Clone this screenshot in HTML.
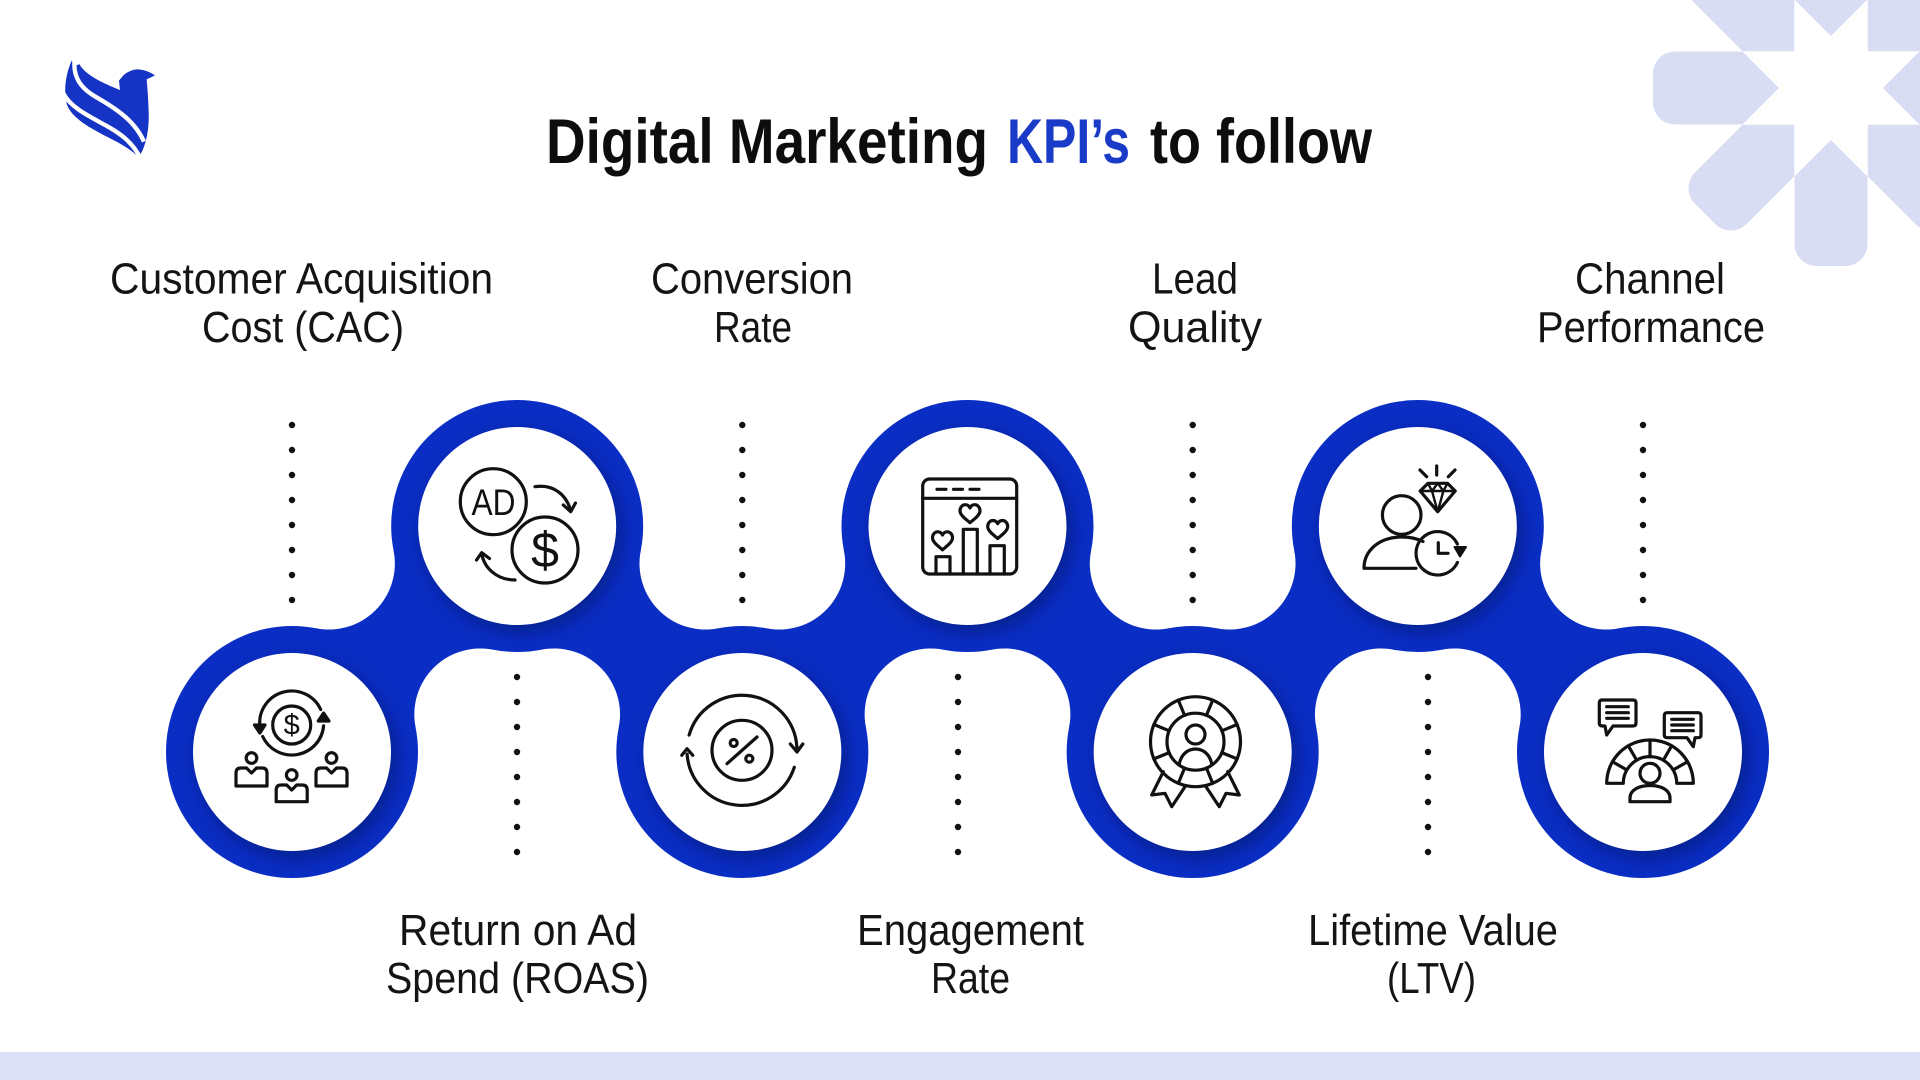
<!DOCTYPE html>
<html>
<head>
<meta charset="utf-8">
<style>
html,body{margin:0;padding:0;background:#ffffff;}
svg{display:block;}
text{font-family:"Liberation Sans",Arial,sans-serif;}
</style>
</head>
<body>
<svg xmlns="http://www.w3.org/2000/svg" xmlns:xlink="http://www.w3.org/1999/xlink" width="1920" height="1080" viewBox="0 0 1920 1080">
<defs>
  <path id="neck" d="M123.59,-24.64 A66,66 0 0 1 200.99,-102.32 L101.58,-201.36 A66,66 0 0 1 24.18,-123.68 Z"/>
  <path id="petal" d="M52,0 L88.5,-36.5 L156,-36.5 A22,22 0 0 1 178,-14.5 L178,14.5 A22,22 0 0 1 156,36.5 L88.5,36.5 Z"/>
  <path id="heart" d="M0,8 C-4,4.5 -10,0.5 -10,-4 C-10,-7.5 -7.5,-10 -4.8,-10 C-2.5,-10 -0.8,-8.5 0,-6.8 C0.8,-8.5 2.5,-10 4.8,-10 C7.5,-10 10,-7.5 10,-4 C10,0.5 4,4.5 0,8 Z"/>
  <clipPath id="cc">
    <circle cx="292" cy="752" r="126"/>
    <circle cx="517.17" cy="526" r="126"/>
    <circle cx="742.33" cy="752" r="126"/>
    <circle cx="967.5" cy="526" r="126"/>
    <circle cx="1192.67" cy="752" r="126"/>
    <circle cx="1417.83" cy="526" r="126"/>
    <circle cx="1643" cy="752" r="126"/>
    <use href="#neck" xlink:href="#neck" transform="translate(292,752)"/>
    <use href="#neck" xlink:href="#neck" transform="translate(517.17,526) scale(1,-1)"/>
    <use href="#neck" xlink:href="#neck" transform="translate(742.33,752)"/>
    <use href="#neck" xlink:href="#neck" transform="translate(967.5,526) scale(1,-1)"/>
    <use href="#neck" xlink:href="#neck" transform="translate(1192.67,752)"/>
    <use href="#neck" xlink:href="#neck" transform="translate(1417.83,526) scale(1,-1)"/>
  </clipPath>
  <filter id="sh" x="-20%" y="-20%" width="140%" height="140%">
    <feGaussianBlur stdDeviation="9"/>
  </filter>
</defs>

<!-- decorative star top-right -->
<g transform="translate(1831,88)" fill="#d8ddf4">
  <use href="#petal" xlink:href="#petal" transform="rotate(0)"/>
  <use href="#petal" xlink:href="#petal" transform="rotate(45)"/>
  <use href="#petal" xlink:href="#petal" transform="rotate(90)"/>
  <use href="#petal" xlink:href="#petal" transform="rotate(135)"/>
  <use href="#petal" xlink:href="#petal" transform="rotate(180)"/>
  <use href="#petal" xlink:href="#petal" transform="rotate(225)"/>
  <use href="#petal" xlink:href="#petal" transform="rotate(270)"/>
  <use href="#petal" xlink:href="#petal" transform="rotate(315)"/>
</g>

<!-- bottom band -->
<rect x="0" y="1052" width="1920" height="28" fill="#dde1f7"/>

<!-- logo -->
<g transform="translate(40,40) scale(0.3333)">
  <path fill="#1533c4" d="M95,62 C78,100 70,150 80,190 C92,235 160,270 220,300 C255,318 280,335 296,352 C318,320 328,270 326,215 C325,175 322,140 320,118 L345,106 C330,96 312,88 290,88 C270,90 255,100 245,112 L237,122 L240,150 C190,130 135,105 118,72 C110,80 100,70 95,62 Z"/>
  <path fill="none" stroke="#ffffff" stroke-width="13" d="M104,58 C98,110 120,145 175,175 C235,210 285,245 312,305"/>
  <path fill="none" stroke="#ffffff" stroke-width="13" d="M70,160 C90,200 140,225 195,255 C245,282 280,310 302,356"/>
</g>

<!-- title -->
<text x="546" y="163" font-size="63" font-weight="700" fill="#0d0d0d" textLength="442" lengthAdjust="spacingAndGlyphs">Digital Marketing</text>
<text x="1007" y="163" font-size="63" font-weight="700" fill="#1a3ac8" textLength="123" lengthAdjust="spacingAndGlyphs">KPI’s</text>
<text x="1150" y="163" font-size="63" font-weight="700" fill="#0d0d0d" textLength="222" lengthAdjust="spacingAndGlyphs">to follow</text>

<!-- labels -->
<g font-size="44" fill="#141414">
  <text x="110" y="293.5" textLength="383" lengthAdjust="spacingAndGlyphs">Customer Acquisition</text>
  <text x="202" y="342" textLength="202" lengthAdjust="spacingAndGlyphs">Cost (CAC)</text>
  <text x="651" y="293.5" textLength="202" lengthAdjust="spacingAndGlyphs">Conversion</text>
  <text x="714" y="342" textLength="78" lengthAdjust="spacingAndGlyphs">Rate</text>
  <text x="1152" y="293.5" textLength="86" lengthAdjust="spacingAndGlyphs">Lead</text>
  <text x="1128" y="342" textLength="134" lengthAdjust="spacingAndGlyphs">Quality</text>
  <text x="1575" y="293.5" textLength="150" lengthAdjust="spacingAndGlyphs">Channel</text>
  <text x="1537" y="342" textLength="228" lengthAdjust="spacingAndGlyphs">Performance</text>

  <text x="399" y="945" textLength="238" lengthAdjust="spacingAndGlyphs">Return on Ad</text>
  <text x="386" y="993" textLength="263" lengthAdjust="spacingAndGlyphs">Spend (ROAS)</text>
  <text x="857" y="945" textLength="227" lengthAdjust="spacingAndGlyphs">Engagement</text>
  <text x="931" y="993" textLength="79" lengthAdjust="spacingAndGlyphs">Rate</text>
  <text x="1308" y="945" textLength="250" lengthAdjust="spacingAndGlyphs">Lifetime Value</text>
  <text x="1387" y="993" textLength="89" lengthAdjust="spacingAndGlyphs">(LTV)</text>
</g>

<!-- dotted lines -->
<g stroke="#111" stroke-width="6.4" stroke-linecap="round" stroke-dasharray="0 25" fill="none">
  <line x1="292" y1="425" x2="292" y2="601"/>
  <line x1="742.3" y1="425" x2="742.3" y2="601"/>
  <line x1="1192.7" y1="425" x2="1192.7" y2="601"/>
  <line x1="1643" y1="425" x2="1643" y2="601"/>
  <line x1="517" y1="677" x2="517" y2="853"/>
  <line x1="958" y1="677" x2="958" y2="853"/>
  <line x1="1428" y1="677" x2="1428" y2="853"/>
</g>

<!-- blue chain -->
<g fill="#0a2ec4">
  <circle cx="292" cy="752" r="126"/>
  <circle cx="517.17" cy="526" r="126"/>
  <circle cx="742.33" cy="752" r="126"/>
  <circle cx="967.5" cy="526" r="126"/>
  <circle cx="1192.67" cy="752" r="126"/>
  <circle cx="1417.83" cy="526" r="126"/>
  <circle cx="1643" cy="752" r="126"/>
  <use href="#neck" xlink:href="#neck" transform="translate(292,752)"/>
  <use href="#neck" xlink:href="#neck" transform="translate(517.17,526) scale(1,-1)"/>
  <use href="#neck" xlink:href="#neck" transform="translate(742.33,752)"/>
  <use href="#neck" xlink:href="#neck" transform="translate(967.5,526) scale(1,-1)"/>
  <use href="#neck" xlink:href="#neck" transform="translate(1192.67,752)"/>
  <use href="#neck" xlink:href="#neck" transform="translate(1417.83,526) scale(1,-1)"/>
</g>

<!-- shadows cast by white circles onto ring -->
<g clip-path="url(#cc)">
  <g filter="url(#sh)" fill="#000c4a" opacity="0.45">
    <circle cx="297" cy="759" r="99"/>
    <circle cx="522.17" cy="533" r="99"/>
    <circle cx="747.33" cy="759" r="99"/>
    <circle cx="972.5" cy="533" r="99"/>
    <circle cx="1197.67" cy="759" r="99"/>
    <circle cx="1422.83" cy="533" r="99"/>
    <circle cx="1648" cy="759" r="99"/>
  </g>
</g>

<!-- white inner circles -->
<g fill="#ffffff">
  <circle cx="292" cy="752" r="99"/>
  <circle cx="517.17" cy="526" r="99"/>
  <circle cx="742.33" cy="752" r="99"/>
  <circle cx="967.5" cy="526" r="99"/>
  <circle cx="1192.67" cy="752" r="99"/>
  <circle cx="1417.83" cy="526" r="99"/>
  <circle cx="1643" cy="752" r="99"/>
</g>

<!-- ICONS -->
<g stroke="#111" stroke-width="3.2" fill="none" stroke-linecap="round" stroke-linejoin="round">

  <!-- Icon 1: CAC -->
  <circle cx="291.7" cy="725" r="19"/>
  <path d="M320.7,709.5 A32,32 0 0 0 259.8,725.8"/>
  <path d="M262.7,736.5 A32,32 0 0 0 323.6,725.8"/>
  <path d="M259.8,733 L254.5,725 L265,725 Z" fill="#111"/>
  <path d="M323.6,713 L318.3,721 L329,721 Z" fill="#111"/>
  <circle cx="251.5" cy="758" r="5.3"/>
  <path d="M236,786 L236,773 Q236,768 241,768 L246.5,768 L251.5,773 L256.5,768 L262,768 Q267,768 267,773 L267,786 Z"/>
  <circle cx="291.7" cy="775" r="5.3"/>
  <path d="M276.2,801.7 L276.2,790 Q276.2,785 281.2,785 L286.7,785 L291.7,790 L296.7,785 L302.2,785 Q307.2,785 307.2,790 L307.2,801.7 Z"/>
  <circle cx="331.5" cy="758" r="5.3"/>
  <path d="M316,786 L316,773 Q316,768 321,768 L326.5,768 L331.5,773 L336.5,768 L342,768 Q347,768 347,773 L347,786 Z"/>

  <!-- Icon 2: ROAS -->
  <circle cx="493.3" cy="501.7" r="33"/>
  <circle cx="545" cy="550" r="33"/>
  <path d="M535,486.7 C553,484 566,494 570.7,510.5"/>
  <path d="M563.3,505 L570.7,511.7 L575.5,503"/>
  <path d="M515,580 C497,580 484,568 481.7,553.5"/>
  <path d="M476.5,560 L481.7,552.7 L489.5,558.5"/>

  <!-- Icon 3: Conversion -->
  <path d="M689.1,735.1 A55,55 0 0 1 796.9,747.4"/>
  <path d="M790.3,744 L797,752 L802.8,744"/>
  <path d="M794.3,767.3 A55,55 0 0 1 687.1,754.1"/>
  <path d="M681.8,755.3 L687,748.7 L692.8,755.3"/>
  <circle cx="742" cy="750.3" r="30"/>
  <line x1="727" y1="763.7" x2="757" y2="737"/>
  <circle cx="733.7" cy="743" r="3.5"/>
  <circle cx="749.3" cy="758.7" r="3.5"/>

  <!-- Icon 4: Engagement -->
  <rect x="922.7" y="479" width="94" height="95" rx="7"/>
  <line x1="922.7" y1="498.3" x2="1016.7" y2="498.3"/>
  <line x1="937" y1="489.3" x2="946" y2="489.3"/>
  <line x1="953.5" y1="489.3" x2="962.5" y2="489.3"/>
  <line x1="970" y1="489.3" x2="979" y2="489.3"/>
  <path d="M936,574 L936,556.7 L950,556.7 L950,574"/>
  <path d="M963.3,574 L963.3,529.3 L977.3,529.3 L977.3,574"/>
  <path d="M990,574 L990,545.7 L1004.3,545.7 L1004.3,574"/>
  <use href="#heart" xlink:href="#heart" transform="translate(942.5,541.8)"/>
  <use href="#heart" xlink:href="#heart" transform="translate(970,514.7)"/>
  <use href="#heart" xlink:href="#heart" transform="translate(997.7,530.5)"/>

  <!-- Icon 5: Lead quality rosette -->
  <path d="M1163.3,771.7 L1151.7,795 L1165,793.3 L1171.7,806.7 L1185,786.7" />
  <path d="M1227.7,771.7 L1239.3,795 L1226,793.3 L1219.3,806.7 L1206,786.7" />
  <circle cx="1195.5" cy="741.7" r="45"/>
  <circle cx="1195.5" cy="741.7" r="28.5"/>
  <line x1="1184.6" y1="715.4" x2="1178.3" y2="700.1"/>
  <line x1="1206.4" y1="715.4" x2="1212.7" y2="700.1"/>
  <line x1="1221.8" y1="730.8" x2="1237.1" y2="724.5"/>
  <line x1="1221.8" y1="752.6" x2="1237.1" y2="758.9"/>
  <line x1="1206.4" y1="768" x2="1212.7" y2="783.3"/>
  <line x1="1184.6" y1="768" x2="1178.3" y2="783.3"/>
  <line x1="1169.2" y1="752.6" x2="1153.9" y2="758.9"/>
  <line x1="1169.2" y1="730.8" x2="1153.9" y2="724.5"/>
  <circle cx="1195.5" cy="734.5" r="9.5"/>
  <path d="M1179,765 C1181,754 1188,749 1195.5,749 C1203,749 1210,754 1212,765"/>

  <!-- Icon 6: Lifetime value -->
  <circle cx="1401.7" cy="515" r="19.3"/>
  <path d="M1416,568.3 L1364,568.3 C1364,550 1380,537 1401.7,537 C1410,537 1417,538.5 1423,541.5"/>
  <path d="M1457.4,544.1 A21.7,21.7 0 1 0 1457.4,562.5"/>
  <path d="M1460,556.5 L1454.5,547 L1466,547 Z" fill="#111" stroke-width="2"/>
  <path d="M1438.3,542.7 L1438.3,553.3 L1448,553.3"/>
  <path d="M1428,483.3 L1447.5,483.3 L1455.2,491 L1437.7,511.7 L1420.2,491 Z"/>
  <path d="M1420.2,491 L1455.2,491 M1428,483.3 L1432,491 L1437.7,511.7 L1443.4,491 L1447.5,483.3 M1437.7,483.3 L1432,491 M1437.7,483.3 L1443.4,491" stroke-width="2.4"/>
  <line x1="1436.7" y1="466" x2="1436.7" y2="475"/>
  <line x1="1420" y1="470" x2="1426.7" y2="476.7"/>
  <line x1="1455" y1="470" x2="1448.3" y2="476.7"/>

  <!-- Icon 7: Channel performance -->
  <path d="M1602.3,700 L1633,700 Q1636,700 1636,703 L1636,723 Q1636,726 1633,726 L1613,726 L1606.7,735 L1605,726 L1602.3,726 Q1599.3,726 1599.3,723 L1599.3,703 Q1599.3,700 1602.3,700 Z"/>
  <line x1="1606.7" y1="706.7" x2="1628.3" y2="706.7"/>
  <line x1="1606.7" y1="712.7" x2="1628.3" y2="712.7"/>
  <line x1="1606.7" y1="718.3" x2="1628.3" y2="718.3"/>
  <path d="M1667.3,712.7 L1698,712.7 Q1701,712.7 1701,715.7 L1701,734.7 Q1701,737.7 1698,737.7 L1695,737.7 L1693.3,746.7 L1687,737.7 L1667.3,737.7 Q1664.3,737.7 1664.3,734.7 L1664.3,715.7 Q1664.3,712.7 1667.3,712.7 Z"/>
  <line x1="1671.7" y1="719.3" x2="1693.3" y2="719.3"/>
  <line x1="1671.7" y1="725" x2="1693.3" y2="725"/>
  <line x1="1671.7" y1="730.7" x2="1693.3" y2="730.7"/>
  <path d="M1606.7,783.3 A43.3,43.3 0 0 1 1693.3,783.3 L1676.7,783.3 A26.7,26.7 0 0 0 1623.3,783.3 Z"/>
  <line x1="1626.9" y1="770" x2="1612.5" y2="761.7"/>
  <line x1="1636.65" y1="760.2" x2="1628.35" y2="745.8"/>
  <line x1="1650" y1="756.6" x2="1650" y2="740"/>
  <line x1="1663.35" y1="760.2" x2="1671.65" y2="745.8"/>
  <line x1="1673.1" y1="770" x2="1687.5" y2="761.7"/>
  <circle cx="1650" cy="773.3" r="10"/>
  <path d="M1630,801.7 L1630,798 C1630,790 1639,785.5 1650,785.5 C1661,785.5 1670,790 1670,798 L1670,801.7 Z"/>
</g>

<!-- icon texts -->
<text x="291.7" y="734.5" font-size="29" fill="#111" text-anchor="middle">$</text>
<text x="471.5" y="515" font-size="37" fill="#111" textLength="44" lengthAdjust="spacingAndGlyphs">AD</text>
<text x="545" y="567" font-size="50" fill="#111" text-anchor="middle">$</text>

</svg>
</body>
</html>
